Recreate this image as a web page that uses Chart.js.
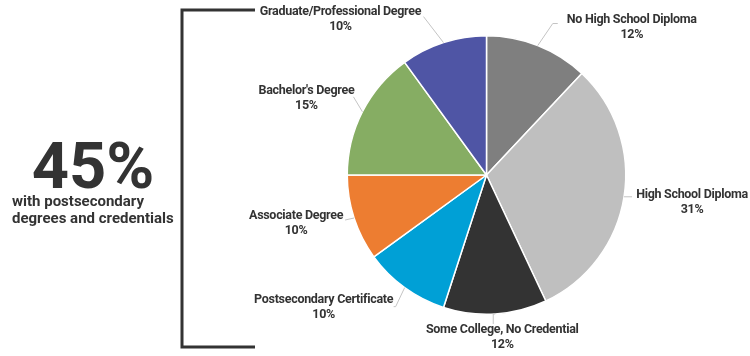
<!DOCTYPE html>
<html>
<head>
<meta charset="utf-8">
<script src="https://cdn.jsdelivr.net/npm/chart.js@4/dist/chart.umd.min.js"></script>
<style>
  html, body { margin: 0; padding: 0; background: #ffffff; }
  #wrap { width: 750px; height: 356px; position: relative; }
</style>
</head>
<body>
<div id="wrap"><canvas id="c" width="750" height="356"></canvas></div>
<script>
// ---- data ----
const categories = [
  "No High School Diploma",
  "High School Diploma",
  "Some College, No Credential",
  "Postsecondary Certificate",
  "Associate Degree",
  "Bachelor's Degree",
  "Graduate/Professional Degree"
];
const values = [12, 31, 12, 10, 10, 15, 10];
const headlineValue = "45%";
const headlineText = ["with postsecondary", "degrees and credentials"];

// ---- styles ----
const sliceColors = ["#7f7f7f", "#bfbfbf", "#333333", "#00a0d6", "#ed7d31", "#86ad63", "#4f55a5"];
// label layout relative to the slice edge point at mid-angle
const labelLayout = [
  { line: [[15, -22], [20, -22]], text: [94, -26] },
  { line: [[8, 0]], text: [68, -2] },
  { line: [[-2, 0], [-2, 10]], text: [7, 16] },
  { line: [[-9, 19], [-11, 19]], text: [-81, 12] },
  { line: [[-9, 2]], text: [-58, -2] },
  { line: [[-9, -15]], text: [-56, -21] },
  { line: [[-20, -26]], text: [-103, -31] }
];

const labelsPlugin = {
  id: 'outLabels',
  afterDatasetsDraw(chart) {
    const ctx = chart.ctx;
    const meta = chart.getDatasetMeta(0);
    ctx.save();
    meta.data.forEach((arc, i) => {
      const p = arc.getProps(['x', 'y', 'startAngle', 'endAngle', 'outerRadius'], true);
      const mid = (p.startAngle + p.endAngle) / 2;
      const ex = p.x + Math.cos(mid) * p.outerRadius;
      const ey = p.y + Math.sin(mid) * p.outerRadius;
      const L = labelLayout[i];
      ctx.strokeStyle = '#c4c4c4';
      ctx.lineWidth = 1;
      ctx.beginPath();
      ctx.moveTo(ex, ey);
      L.line.forEach(pt => ctx.lineTo(ex + pt[0], ey + pt[1]));
      ctx.stroke();
      const tx = ex + L.text[0], ty = ey + L.text[1];
      ctx.fillStyle = '#333333';
      ctx.font = 'bold 12.5px Roboto';
      try { ctx.letterSpacing = '-0.3px'; } catch (e) {}
      ctx.textAlign = 'center';
      ctx.textBaseline = 'middle';
      ctx.fillText(categories[i], tx, ty);
      ctx.fillText(values[i] + '%', tx, ty + 15);
    });
    ctx.restore();

    // headline and bracket
    ctx.save();
    try { ctx.letterSpacing = '0px'; } catch (e) {}
    ctx.strokeStyle = '#333333';
    ctx.lineWidth = 3;
    ctx.beginPath();
    ctx.moveTo(255, 10);
    ctx.lineTo(182, 10);
    ctx.lineTo(182, 347);
    ctx.lineTo(255, 347);
    ctx.stroke();

    ctx.fillStyle = '#333333';
    ctx.textAlign = 'center';
    ctx.textBaseline = 'alphabetic';
    ctx.font = 'bold 65px Roboto';
    ctx.fillText(headlineValue, 93, 188);
    ctx.textAlign = 'left';
    ctx.font = 'bold 15px Roboto';
    ctx.fillText(headlineText[0], 12, 206);
    ctx.fillText(headlineText[1], 12, 223);
    ctx.restore();
  }
};

new Chart(document.getElementById('c'), {
  type: 'pie',
  data: {
    labels: categories,
    datasets: [{
      data: values,
      backgroundColor: sliceColors,
      borderColor: '#ffffff',
      borderWidth: 1.5
    }]
  },
  options: {
    responsive: false,
    animation: false,
    layout: { padding: { left: 346, right: 123, top: 35, bottom: 41 } },
    plugins: { legend: { display: false }, tooltip: { enabled: false } }
  },
  plugins: [labelsPlugin]
});
</script>
</body>
</html>
